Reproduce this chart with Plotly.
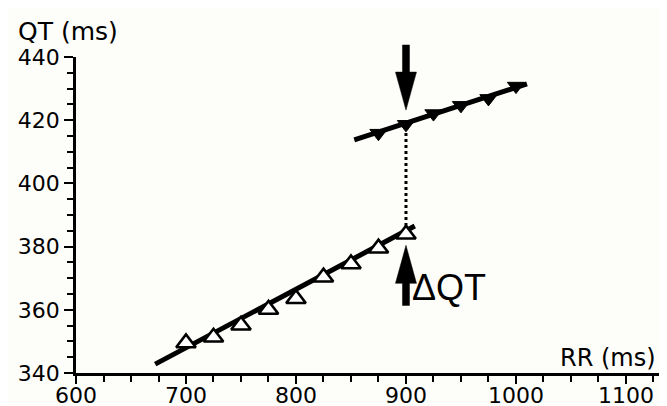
import plotly.graph_objects as go

# ---- data ----
rr_before = [700, 725, 750, 775, 800, 825, 850, 875, 900]
qt_before = [349.5, 351.3, 355.1, 360.1, 363.5, 370.3, 374.5, 379.5, 383.9]

rr_after = [875, 900, 925, 950, 975, 1000]
qt_after = [415.9, 418.7, 422.1, 424.7, 426.9, 430.8]

fit_before_rr = [672, 908]
fit_before_qt = [342.8, 386.5]
fit_after_rr = [853, 1010]
fit_after_qt = [413.8, 431.5]

delta_rr = 900
delta_qt = [386.5, 416.5]

arrow_down_qt = [423.2, 443.8]   # tip, tail
arrow_up_qt = [380.4, 361.4]     # tip, tail

x_range = [600, 1137.3]
y_range = [340, 440]
x_ticks = [600, 700, 800, 900, 1000, 1100]
y_ticks = [340, 360, 380, 400, 420, 440]

# ---- layout constants (page body has an 8px margin) ----
OFF = 8
W, H = 667 - OFF, 406 - OFF
ML, MR, MT = 76 - OFF, 0, 57 - OFF
PLOT_H = 316
MB = H - MT - PLOT_H
PX_PER_QT = PLOT_H / (y_range[1] - y_range[0])
FONT = "DejaVu Sans"
BG = "#fdfdf9"

fig = go.Figure()

fig.add_trace(go.Scatter(x=fit_before_rr, y=fit_before_qt, mode="lines",
                         line=dict(color="black", width=5), hoverinfo="skip"))
fig.add_trace(go.Scatter(x=fit_after_rr, y=fit_after_qt, mode="lines",
                         line=dict(color="black", width=5), hoverinfo="skip"))
fig.add_trace(go.Scatter(x=[delta_rr, delta_rr], y=delta_qt, mode="lines",
                         line=dict(color="black", width=3, dash="dot"), hoverinfo="skip"))
fig.add_trace(go.Scatter(x=rr_before, y=qt_before, mode="markers",
                         marker=dict(symbol="triangle-up", size=17, color="white",
                                     line=dict(color="black", width=2.6))))
fig.add_trace(go.Scatter(x=rr_after, y=qt_after, mode="markers",
                         marker=dict(symbol="triangle-down", size=15, color="black",
                                     line=dict(color="black", width=1))))


def arrow_path(length_px, head_len=38, head_half=10, shaft_half=3.5, direction=1):
    # direction=1: arrow points up (tail below tip); -1: points down
    d = -direction
    pts = [(0, 0), (-head_half, d * head_len), (-shaft_half, d * head_len),
           (-shaft_half, d * length_px), (shaft_half, d * length_px),
           (shaft_half, d * head_len), (head_half, d * head_len)]
    return "M " + " L ".join(f"{x},{y}" for x, y in pts) + " Z"


def yfrac(q):
    return (q - y_range[0]) / (y_range[1] - y_range[0])


for tip, tail, direction in [(arrow_down_qt[0], arrow_down_qt[1], -1),
                             (arrow_up_qt[0], arrow_up_qt[1], 1)]:
    length = abs(tail - tip) * PX_PER_QT
    fig.add_shape(type="path", xref="x", yref="paper",
                  xsizemode="pixel", ysizemode="pixel",
                  xanchor=delta_rr, yanchor=yfrac(tip),
                  path=arrow_path(length, head_len=38, head_half=10.5, direction=direction),
                  fillcolor="black", line=dict(color="black", width=0.5))

fig.add_annotation(x=904, y=367, xref="x", yref="y", text="ΔQT", showarrow=False,
                   xanchor="left", yanchor="middle",
                   font=dict(family="Liberation Sans", size=36, color="black"))
fig.add_annotation(x=-(76 - 16) / (W - ML - MR), y=1 + (57 - 31) / PLOT_H,
                   xref="paper", yref="paper", text="QT (ms)", showarrow=False,
                   xanchor="left", yanchor="middle",
                   font=dict(family=FONT, size=25, color="black"))
fig.add_annotation(x=1 - 9 / (W - ML - MR), y=(373 - 358) / PLOT_H,
                   xref="paper", yref="paper", text="RR (ms)", showarrow=False,
                   xanchor="right", yanchor="middle",
                   font=dict(family=FONT, size=24, color="black"))

fig.update_layout(
    width=W, height=H, showlegend=False,
    margin=dict(l=ML, r=MR, t=MT, b=MB, autoexpand=False),
    paper_bgcolor=BG, plot_bgcolor=BG,
    font=dict(family=FONT, color="black"),
    xaxis=dict(range=x_range, tickvals=x_ticks, showgrid=False, zeroline=False,
               automargin=False,
               showline=True, linecolor="black", linewidth=2.5,
               ticks="outside", ticklen=8, tickwidth=2, tickcolor="black",
               ticklabelstandoff=-7,
               minor=dict(dtick=25, ticks="outside", ticklen=6, tickwidth=2,
                          tickcolor="black", showgrid=False),
               tickfont=dict(family=FONT, size=22, color="black")),
    yaxis=dict(range=y_range, tickvals=y_ticks, showgrid=False, zeroline=False,
               automargin=False,
               showline=True, linecolor="black", linewidth=2.5,
               ticks="outside", ticklen=9, tickwidth=2, tickcolor="black",
               minor=dict(dtick=5, ticks="outside", ticklen=6, tickwidth=2,
                          tickcolor="black", showgrid=False),
               tickfont=dict(family=FONT, size=22, color="black")),
)

fig.write_html("out.html")
